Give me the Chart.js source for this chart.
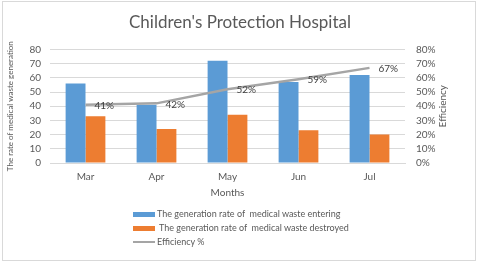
<!DOCTYPE html>
<html>
<head>
<meta charset="utf-8">
<script src="https://cdn.jsdelivr.net/npm/chart.js@4"></script>
<style>
  html, body { margin: 0; padding: 0; background: #fff; }
  #wrap { position: relative; width: 480px; height: 264px; }
  #frame { position: absolute; left: 2px; top: 1px; width: 472px; height: 258px; border: 1px solid #d9d9d9; pointer-events: none; }
  #legend { position: absolute; left: 133px; top: 207px; font-family: Lato, sans-serif; font-size: 9px; color: #595959; }
  #legend .item { height: 14px; line-height: 14px; white-space: pre; display: flex; align-items: center; }
  #legend .sw { width: 22px; margin-right: 2px; }
</style>
</head>
<body>
<div id="wrap">
  <canvas id="chart" width="480" height="264"></canvas>
  <div id="frame"></div>
  <div id="legend"></div>
</div>
<script>
var months = ['Mar', 'Apr', 'May', 'Jun', 'Jul'];
var entering = [56, 41, 72, 57, 62];
var destroyed = [33, 24, 34, 23, 20];
var efficiency = [41, 42, 52, 59, 67];
var seriesNames = ['The generation rate of  medical waste entering', ' The generation rate of  medical waste destroyed', 'Efficiency %'];

var textColor = '#595959';
var fontFamily = 'Lato, sans-serif';

// labels to the right of each line point
var lineLabels = {
  id: 'lineLabels',
  afterDatasetsDraw: function(chart) {
    var ctx = chart.ctx;
    var meta = chart.getDatasetMeta(2);
    ctx.save();
    ctx.font = '10px ' + fontFamily;
    ctx.fillStyle = '#404040';
    ctx.textAlign = 'left';
    ctx.textBaseline = 'middle';
    meta.data.forEach(function(pt, i) {
      ctx.fillText(efficiency[i] + '%', pt.x + 9, pt.y + 1);
    });
    ctx.restore();
  }
};

// right axis title reads bottom to top like the left one
var rightTitle = {
  id: 'rightTitle',
  afterDraw: function(chart) {
    var s = chart.scales.y2;
    var ctx = chart.ctx;
    ctx.save();
    ctx.font = '10px ' + fontFamily;
    ctx.fillStyle = textColor;
    ctx.textAlign = 'center';
    ctx.textBaseline = 'middle';
    ctx.translate(s.left + 38, (s.top + s.bottom) / 2);
    ctx.rotate(-Math.PI / 2);
    ctx.fillText('Efficiency', 0, 0);
    ctx.restore();
  }
};

var tickFont = { family: fontFamily, size: 10 };

var ctx = document.getElementById('chart').getContext('2d');
var chart = new Chart(ctx, {
  type: 'bar',
  data: {
    labels: months,
    datasets: [
      { type: 'bar', label: seriesNames[0], data: entering, backgroundColor: '#5b9bd5', yAxisID: 'y', order: 2,
        categoryPercentage: 0.56, barPercentage: 1.0 },
      { type: 'bar', label: seriesNames[1], data: destroyed, backgroundColor: '#ed7d31', yAxisID: 'y', order: 2,
        categoryPercentage: 0.56, barPercentage: 1.0 },
      { type: 'line', label: seriesNames[2], data: efficiency, borderColor: '#a5a5a5', borderWidth: 2.5,
        pointRadius: 0, yAxisID: 'y2', order: 1, tension: 0 }
    ]
  },
  options: {
    responsive: false,
    animation: false,
    layout: { padding: { left: 0, right: 0, top: 0, bottom: 59 } },
    plugins: {
      legend: { display: false },
      tooltip: { enabled: false },
      title: {
        display: true,
        text: "Children's Protection Hospital",
        color: textColor,
        font: { family: fontFamily, size: 17, weight: 'normal' },
        padding: { top: 12, bottom: 17 }
      }
    },
    scales: {
      x: {
        grid: { display: false, drawTicks: false },
        border: { display: true, color: '#d9d9d9' },
        ticks: { color: textColor, font: tickFont, padding: 8 },
        title: { display: true, text: 'Months', color: textColor, font: tickFont, padding: { top: 4, bottom: 6 } },
        afterFit: function(scale) { scale.height = 42; }
      },
      y: {
        position: 'left',
        min: 0, max: 80,
        ticks: { stepSize: 10, autoSkip: false, color: textColor, font: tickFont, padding: 9 },
        grid: { color: '#d9d9d9', drawTicks: false },
        border: { display: false },
        title: { display: true, text: 'The rate of medical waste generation', color: textColor,
                 font: { family: fontFamily, size: 8 }, padding: { top: 6, bottom: 0 } },
        afterFit: function(scale) { scale.width = 50; }
      },
      y2: {
        position: 'right',
        min: 0, max: 80,
        ticks: { stepSize: 10, autoSkip: false, color: textColor, font: tickFont, padding: 11,
                 callback: function(v) { return v + '%'; } },
        grid: { display: false, drawTicks: false },
        border: { display: false },
        afterFit: function(scale) { scale.width = 75; }
      }
    }
  },
  plugins: [lineLabels, rightTitle]
});

// legend stacked vertically like the original
var legend = document.getElementById('legend');
chart.data.datasets.forEach(function(ds) {
  var item = document.createElement('div');
  item.className = 'item';
  var sw = document.createElement('span');
  sw.className = 'sw';
  if (ds.type === 'line') {
    sw.style.height = '2px';
    sw.style.background = ds.borderColor;
  } else {
    sw.style.height = '5px';
    sw.style.background = ds.backgroundColor;
  }
  var txt = document.createElement('span');
  txt.textContent = ds.label;
  item.appendChild(sw);
  item.appendChild(txt);
  legend.appendChild(item);
});
</script>
</body>
</html>
